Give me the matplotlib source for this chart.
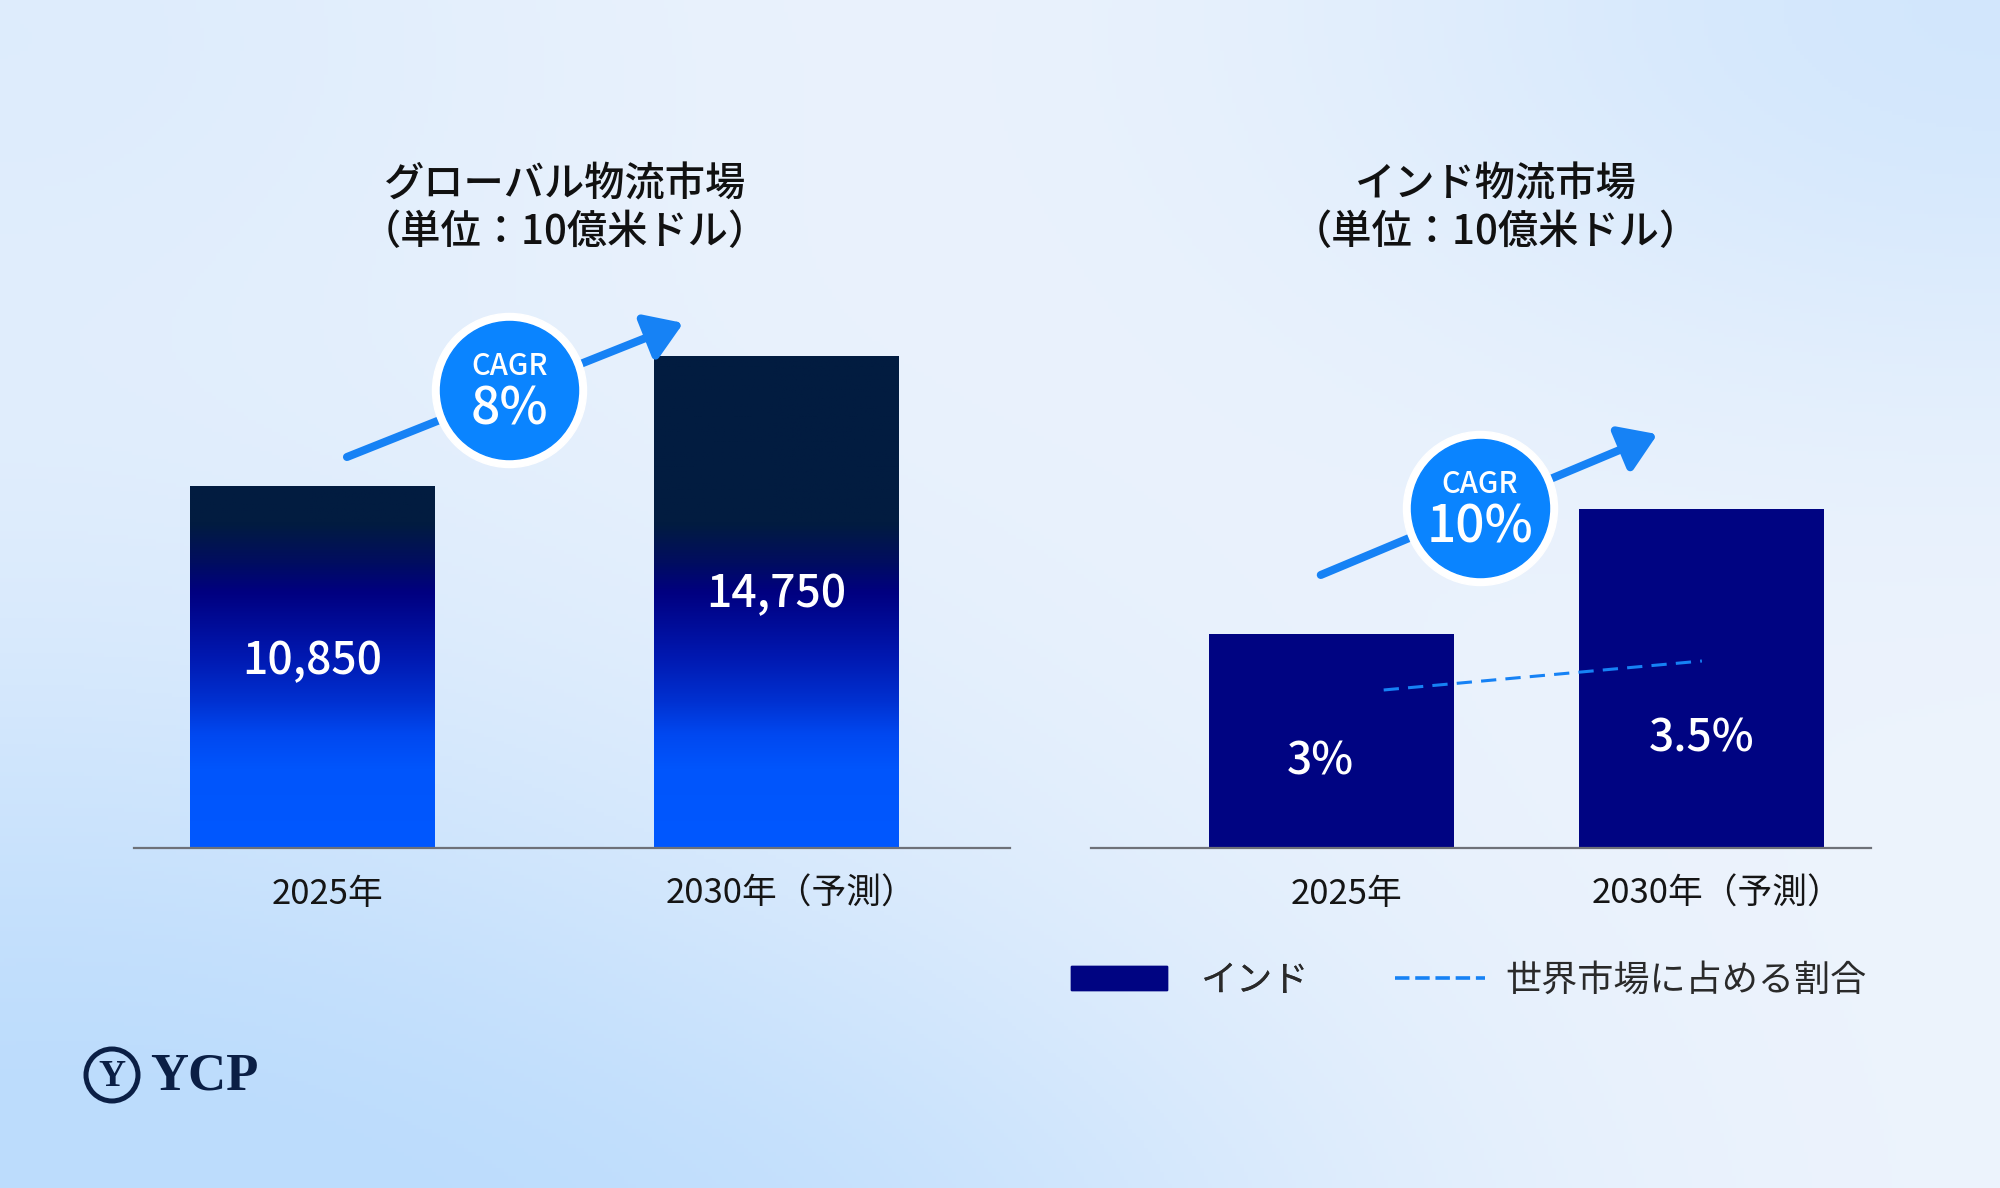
import numpy as np
import matplotlib
matplotlib.use('Agg')
import matplotlib.pyplot as plt
from matplotlib.colors import LinearSegmentedColormap, to_rgb
from matplotlib.patches import Patch, Circle
from matplotlib.lines import Line2D
from matplotlib.transforms import ScaledTranslation

plt.rcParams['font.family'] = ['Noto Sans CJK JP', 'DejaVu Sans']

# data
years = ['2025年', '2030年（予測）']
global_market = [10850, 14750]
global_labels = ['10,850', '14,750']
india_market = [325.5, 516]
india_share = [3.0, 3.5]
share_labels = ['3%', '3.5%']
cagr = ['8%', '10%']
titles = ['グローバル物流市場', 'インド物流市場']
unit = '（単位：10億米ドル）'
legend_labels = ['インド', '世界市場に占める割合']

W, H = 2000, 1188
fig = plt.figure(figsize=(W / 100, H / 100), dpi=100)


def fx(px):
    return px / W


def fy(py):
    return 1 - py / H


# background gradient, in pixel coords
bg = fig.add_axes([0, 0, 1, 1], zorder=-5)
yy, xx = np.mgrid[0:1:300j, 0:1:500j]
t = (1.0 * np.exp(-((xx - 0.0) ** 2 + (yy - 1.0) ** 2) / 0.25)
     + 0.55 * np.exp(-((xx - 1.0) ** 2 + (yy - 0.0) ** 2) / 0.12)
     + 0.30 * np.exp(-((xx - 0.0) ** 2 + (yy - 0.0) ** 2) / 0.10)
     + 0.35 * np.exp(-((xx - 0.45) ** 2 + (yy - 1.1) ** 2) / 0.08))
t = np.clip(t, 0, 1)[..., None]
base = np.array(to_rgb('#eef4fd'))
blue = np.array(to_rgb('#bcdcfc'))
bg.imshow(base * (1 - t) + blue * t, extent=(0, W, H, 0), aspect='auto')
bg.set_xlim(0, W)
bg.set_ylim(H, 0)
bg.axis('off')

# YCP logo
navy = '#0b1f45'
bg.add_patch(Circle((112, 1075), 26, fill=False, lw=3.6, ec=navy))
bg.text(112, 1077, 'Y', ha='center', va='center', fontsize=27,
        family='Liberation Serif', weight='bold', color=navy)
bg.text(150, 1077, 'YCP', ha='left', va='center', fontsize=38,
        family='Liberation Serif', weight='bold', color=navy)

grad = LinearSegmentedColormap.from_list('bar', [
    (0.0, '#0058ff'), (0.16, '#0055fc'), (0.23, '#0048f0'), (0.30, '#0030d0'),
    (0.39, '#0018b0'), (0.52, '#000080'), (0.58, '#010d60'), (0.66, '#021c40'),
    (1.0, '#021c40')])

cagr_blue = '#0a84ff'
arrow_blue = '#1682f5'
india_navy = '#000482'


def style_axis(ax):
    ax.patch.set_alpha(0)
    for s in ['top', 'right', 'left']:
        ax.spines[s].set_visible(False)
    ax.spines['bottom'].set_color('#6e7178')
    ax.spines['bottom'].set_linewidth(1.6)
    ax.set_yticks([])
    ax.set_xticks([0, 1], years)
    ax.tick_params(axis='x', length=0, pad=21, labelsize=25, labelcolor='#151515')
    shift = ScaledTranslation(0.15, 0, fig.dpi_scale_trans)
    for lab in ax.get_xticklabels():
        lab.set_transform(lab.get_transform() + shift)


def cagr_badge(ax, center, start, tip, text):
    ax.annotate('', xy=tip, xytext=start,
                arrowprops=dict(arrowstyle='-|>,head_length=1.1,head_width=0.72',
                                lw=5.8, color=arrow_blue, shrinkA=0, shrinkB=0,
                                mutation_scale=20, capstyle='round'),
                zorder=4, annotation_clip=False)
    ax.scatter([center[0]], [center[1]], s=12300, color='white', zorder=5, clip_on=False)
    ax.scatter([center[0]], [center[1]], s=9880, color=cagr_blue, zorder=6, clip_on=False)
    ax.annotate('CAGR', xy=center, xytext=(0, 17), textcoords='offset points',
                ha='center', va='center', fontsize=21, weight='medium',
                color='white', zorder=7)
    ax.annotate(text, xy=center, xytext=(0, -14), textcoords='offset points',
                ha='center', va='center', fontsize=37, weight='medium',
                color='white', zorder=7)


# left chart: global market
ax1 = fig.add_axes([fx(134), fy(848), (1010 - 134) / W, 600 / H])
bars = ax1.bar([0, 1], global_market, width=0.526, color='none', zorder=2)
top = max(global_market)
for b in bars:
    x0 = b.get_x()
    im = ax1.imshow(np.linspace(0, 1, 256).reshape(-1, 1), cmap=grad, origin='lower',
                    extent=(x0, x0 + b.get_width(), 0, top),
                    aspect='auto', zorder=2)
    im.set_clip_path(b)
for i, (v, lab) in enumerate(zip(global_market, global_labels)):
    ax1.text(i, v * 0.515, lab, ha='center', va='center', fontsize=32,
             weight='medium', color='white', zorder=3)
ax1.set_xlim(-0.384, 1.504)
ax1.set_ylim(0, 18000)
style_axis(ax1)
cagr_badge(ax1, (0.425, 13750), (0.075, 11730), (0.80, 15750), cagr[0])

# right chart: India market
ax2 = fig.add_axes([fx(1091), fy(848), (1871 - 1091) / W, 600 / H])
ax2.bar([0, 1], india_market, width=0.662, color=india_navy, zorder=2)
for i, (v, lab) in enumerate(zip(india_market, share_labels)):
    ax2.text(i - 0.03 * (1 - i), v * 0.4 - 2 * i * 20, lab, ha='center', va='center',
             fontsize=32, weight='medium', color='white', zorder=3)
ax2.set_xlim(-0.651, 1.457)
ax2.set_ylim(0, 912)
style_axis(ax2)
cagr_badge(ax2, (0.40, 517), (-0.03, 415), (0.88, 629), cagr[1])

share_ax = ax2.twinx()
share_ax.set_ylim(0.276, 10.62)
share_ax.axis('off')
share_ax.plot([0.14, 1.0], india_share, color=arrow_blue, lw=2.2,
              ls=(0, (5, 3)), zorder=4)

# titles
for cx, title in zip([565, 1496], titles):
    fig.text(fx(cx), fy(185), title, ha='center', va='center', fontsize=29,
             weight='medium', color='#111111')
    fig.text(fx(cx), fy(233), unit, ha='center', va='center', fontsize=29,
             weight='medium', color='#111111')

# legend, two entries placed separately
leg1 = fig.legend([Patch(color=india_navy)], legend_labels[:1], loc='center left',
                  bbox_to_anchor=(fx(1071), fy(981)), frameon=False,
                  fontsize=26, handlelength=2.65, handleheight=0.65,
                  handletextpad=0.95, borderpad=0, borderaxespad=0,
                  labelcolor='#2a2a2a')
fig.add_artist(leg1)
fig.legend([Line2D([], [], color=arrow_blue, lw=2.6, ls=(0, (4, 1.6)))],
           legend_labels[1:], loc='center left',
           bbox_to_anchor=(fx(1395), fy(981)), frameon=False,
           fontsize=26, handlelength=2.5, handletextpad=0.55, borderpad=0,
           borderaxespad=0, labelcolor='#2a2a2a')

fig.savefig('out.png', dpi=100)
